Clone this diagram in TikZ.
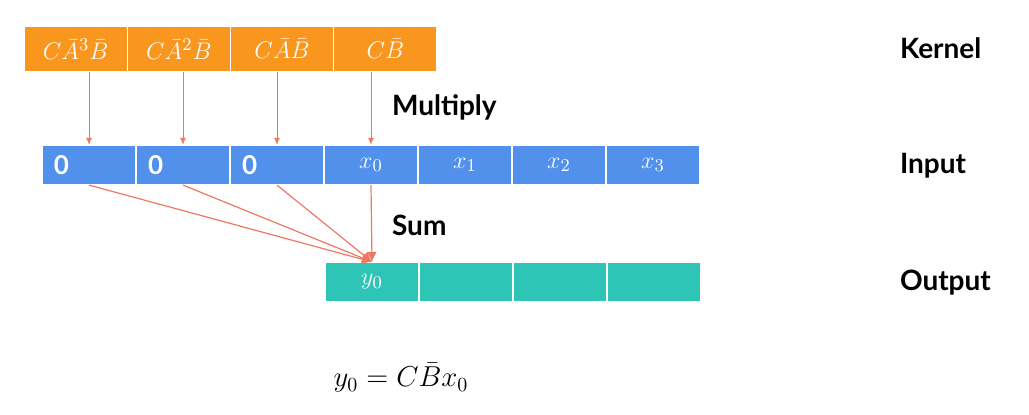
\documentclass[tikz,border=0pt]{standalone}
\usepackage{amsmath,amssymb}
\usepackage{fontspec}
\setsansfont{Lato}
\usepackage{xcolor}
\usepackage{tikz}
\usetikzlibrary{arrows.meta,positioning,calc}

\definecolor{kernOrange}{RGB}{248,150,30}
\definecolor{inBlue}{RGB}{82,145,235}
\definecolor{outTeal}{RGB}{46,196,182}
\definecolor{arrSalmon}{RGB}{238,120,100}

\tikzset{
  cell/.style={rectangle,draw=white,line width=0.6pt,inner sep=0pt,text=white,font=\fontsize{12.5}{14}\selectfont},
  kerncell/.style={cell,fill=kernOrange,minimum width=51.6pt,minimum height=22.5pt},
  incell/.style={cell,fill=inBlue,minimum width=47pt,minimum height=19.5pt},
  zerocell/.style={incell,text width=35pt,inner xsep=6pt,align=left,font=\sffamily\bfseries\fontsize{13}{14}\selectfont},
  outcell/.style={cell,fill=outTeal,minimum width=47pt,minimum height=19.5pt},
  rowlabel/.style={anchor=west,font=\sffamily\bfseries\fontsize{14}{16}\selectfont},
  mularr/.style={draw=arrSalmon,line width=0.5pt,-{Latex[length=3.5pt,width=3pt]}},
  sumarr/.style={draw=arrSalmon,line width=0.6pt,-{Latex[length=5pt,width=5pt]}}
}

\begin{document}
\begin{tikzpicture}[x=0.5pt,y=-0.5pt]
\useasboundingbox (0,0) rectangle (1029,415);

% Kernel row
\node[kerncell] (k0) at (75.6,49) {$C\bar{A}^3\bar{B}$};
\node[kerncell] (k1) at (178.9,49) {$C\bar{A}^2\bar{B}$};
\node[kerncell] (k2) at (282.1,49) {$C\bar{A}\bar{B}$};
\node[kerncell] (k3) at (385.4,49) {$C\bar{B}$};

% Input row
\foreach \i/\x in {0/89,1/183,2/277}
  \node[zerocell] (in\i) at (\x,165) {0};
\node[incell] (in3) at (371,165) {$x_0$};
\node[incell] (in4) at (465,165) {$x_1$};
\node[incell] (in5) at (559,165) {$x_2$};
\node[incell] (in6) at (653,165) {$x_3$};

% Output row
\node[outcell] (out0) at (372,282) {$y_0$};
\foreach \i/\x in {1/466,2/560,3/654}
  \node[outcell] (out\i) at (\x,282) {};

% Multiply arrows
\foreach \i in {0,1,2,3}
  \draw[mularr] (k\i.south -| in\i.north) -- (in\i.north);

% Sum arrows
\foreach \i in {0,1,2,3}
  \draw[sumarr] (in\i.south) -- (out0.north);

% Labels
\node[rowlabel] (lblmul) at (385,107) {Multiply};
\node[rowlabel] (lblsum) at (385,225) {Sum};
\node[rowlabel] (lblkern) at (893,48) {Kernel};
\node[rowlabel] (lblin) at (893,166) {Input};
\node[rowlabel] (lblout) at (893,283) {Output};

% Equation
\node[font=\fontsize{13.8}{16}\selectfont] (eqn) at (401,378) {$y_0 = C\bar{B}x_0$};
\end{tikzpicture}
\end{document}
